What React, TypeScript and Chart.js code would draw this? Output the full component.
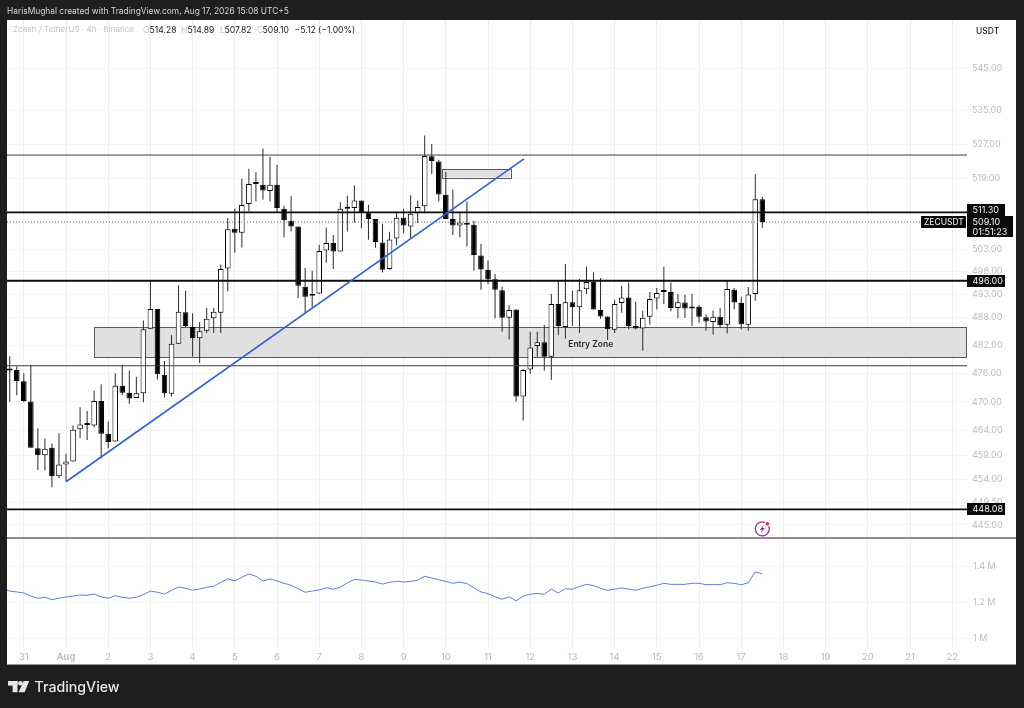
import React, { useEffect, useRef } from "react";
import { Chart, registerables } from "chart.js";

Chart.register(...registerables);

const firstCandle = -8;
const opens = [476.8,476.7,474.3,470.1,460.4,459.0,460.5,454.7,
457.1,457.7,464.3,465.3,465.1,470.2,463.4,461.8,473.4,471.9,
470.8,471.8,485.5,489.8,475.7,471.7,482.3,489.1,485.9,483.5,
485.1,487.8,489.0,498.7,507.6,506.7,513.2,517.9,517.6,516.2,
517.6,512.1,509.4,508.1,494.7,492.7,493.2,502.7,504.4,502.5,
512.1,512.3,514.0,511.3,509.8,504.5,498.6,505.4,510.1,508.1,
511.1,512.7,524.2,523.0,515.3,509.8,508.3,508.9,508.5,501.6,
498.4,496.3,493.9,487.9,489.7,471.1,476.8,481.8,482.6,479.5,
490.9,485.9,491.3,490.2,494.1,495.8,489.6,488.2,485.3,491.1,
492.3,486.1,485.6,488.1,492.1,493.5,493.5,490.0,491.2,489.9,
490.3,488.0,487.0,488.1,486.4,494.0,491.1,486.4,493.1,514.28];
const highs = [479.6,477.5,476.0,477.8,464.5,462.4,461.4,463.5,
459.3,465.1,468.9,468.1,472.3,473.7,465.9,476.0,477.8,476.6,
475.2,487.3,496.0,489.8,478.6,484.1,495.0,493.8,488.9,487.0,
490.0,490.1,499.6,510.0,512.2,519.0,521.3,520.5,526.0,524.1,
522.2,512.8,515.0,508.1,498.8,498.2,504.0,507.9,506.2,513.6,
515.1,517.5,514.0,513.0,509.8,508.7,506.9,511.5,512.1,515.2,
514.0,529.1,527.1,523.4,520.6,516.5,511.5,513.8,509.4,504.2,
500.5,497.5,494.7,490.6,489.7,476.9,484.9,484.9,486.4,493.1,
496.0,499.7,493.8,496.4,499.1,497.9,496.6,488.2,491.8,494.9,
495.6,491.4,489.5,493.5,494.4,499.1,495.6,493.1,492.9,493.1,
490.7,488.6,489.5,490.0,496.0,494.4,492.5,494.6,520.1,514.89];
const lows = [470.0,471.4,470.0,460.5,456.0,455.9,452.5,454.3,
453.7,457.7,462.5,462.1,464.7,458.3,460.4,461.8,471.4,469.6,
470.8,469.9,485.5,474.7,470.9,471.1,482.3,485.9,479.5,478.2,
484.6,484.6,484.6,493.7,502.2,503.4,511.5,513.8,514.2,513.8,
511.4,505.6,507.0,492.2,489.0,489.8,493.1,500.0,498.6,502.5,
507.0,509.0,507.7,505.1,503.3,497.8,498.4,503.9,506.6,505.3,
508.9,511.1,520.1,513.8,509.8,506.2,505.7,503.6,498.2,494.0,
495.3,487.8,484.9,483.2,470.0,466.1,475.9,479.5,476.6,474.6,
484.1,483.4,486.1,484.6,493.1,489.7,487.7,483.1,484.6,489.0,
485.4,485.4,480.8,486.4,489.7,490.9,489.3,487.8,487.9,486.1,
486.8,485.1,484.3,485.7,484.5,489.7,485.4,485.1,491.6,507.82];
const closes = [476.6,474.4,470.2,460.5,459.0,460.3,454.7,457.1,
457.7,464.2,465.3,465.2,470.2,463.4,461.7,473.4,471.9,470.7,
471.8,485.4,489.8,475.8,471.8,482.3,489.2,486.1,483.5,485.0,
487.7,489.2,498.6,507.5,506.7,513.0,517.8,517.8,516.3,517.6,
512.3,509.5,508.1,494.9,492.5,493.1,502.6,504.4,502.5,512.1,
512.3,514.0,511.3,509.8,504.6,498.4,505.2,510.1,508.3,511.0,
512.5,524.3,523.1,515.4,509.8,508.3,509.0,508.5,501.7,498.5,
496.3,494.0,487.9,489.6,471.1,476.7,481.5,482.6,479.5,490.9,
486.1,491.3,490.2,493.9,495.7,489.7,488.2,485.4,490.9,492.3,
486.1,485.6,487.9,492.0,493.3,493.6,490.0,491.3,489.9,490.2,
488.1,487.1,488.1,486.3,494.2,491.2,486.5,493.0,514.28,509.10];

const firstVolume = -9;
const volumeMa = [1.272,1.261,1.256,1.25,1.233,1.221,1.226,1.213,1.221,
1.228,1.233,1.239,1.237,1.244,1.229,1.221,1.235,1.226,1.221,
1.226,1.241,1.261,1.254,1.244,1.265,1.283,1.276,1.265,1.272,
1.282,1.287,1.309,1.329,1.317,1.337,1.356,1.343,1.317,1.328,
1.317,1.304,1.293,1.274,1.254,1.261,1.267,1.279,1.271,1.282,
1.306,1.326,1.322,1.317,1.311,1.3,1.309,1.315,1.311,1.315,
1.321,1.343,1.333,1.324,1.315,1.304,1.311,1.302,1.278,1.256,
1.246,1.229,1.215,1.229,1.206,1.233,1.243,1.248,1.243,1.272,
1.25,1.274,1.271,1.287,1.298,1.291,1.276,1.265,1.271,1.278,
1.272,1.265,1.276,1.285,1.293,1.304,1.298,1.298,1.298,1.304,
1.304,1.296,1.298,1.296,1.307,1.304,1.296,1.307,1.367,1.356];

const dayTicks = [-6,0,6,12,18,24,30,36,42,48,54,60,66,72,78,84,90,96,102,108,114,120,126];
const dayLabels = ["31","Aug","2","3","4","5","6","7","8","9","10","11","12","13","14","15","16","17","18","19","20","21","22"];
const priceTicks = [545,535,527,519,503,498,493,488,482,476,470,464,459,454,449.5,445];
const volumeTicks = [1,1.2,1.4];

const xRange = [-8.39, 128.1];
const priceRange = [442.4, 556.95];
const volumeRange = [0.95, 1.5556];

const heavyLevels = [511.3, 496, 448.08];
const thinLevels = [524.5, 477.6];
const lastPrice = 509.1;
const lastPriceLineEnd = 121.6;
const trendIdx = [0, 65.1];
const trendPrice = [453.6, 523.6];
const entryZone = { x0: 4, x1: 128, hi: 485.9, lo: 479.5, label: "Entry Zone", labelIdx: 74.6, labelPrice: 482.1 };
const smallZone = { x0: 53.4, x1: 63.2, hi: 521.3, lo: 519.3 };
const boltMark = { idx: 99, price: 444.2 };

const indices = opens.map((_, i) => firstCandle + i);
const FONT = "Inter, 'Noto Sans', sans-serif";

const overlay = {
  id: "overlay",
  beforeDraw(chart: any) {
    const c = chart.ctx;
    c.save();
    c.fillStyle = "#1e1e1e";
    c.fillRect(0, 0, 1024, 708);
    c.fillStyle = "#ffffff";
    c.fillRect(7, 20, 1009, 645);
    c.restore();
  },
  beforeDatasetsDraw(chart: any) {
    const c = chart.ctx;
    const x = chart.scales.x, y = chart.scales.y;
    c.save();
    for (const z of [entryZone, smallZone]) {
      const l = x.getPixelForValue(z.x0), r = x.getPixelForValue(z.x1);
      const t = y.getPixelForValue(z.hi), b = y.getPixelForValue(z.lo);
      c.fillStyle = "#e0e0e0";
      c.fillRect(l, t, r - l, b - t);
      c.strokeStyle = "#5a5a5a";
      c.lineWidth = 1;
      c.strokeRect(Math.round(l) + 0.5, Math.round(t) + 0.5, Math.round(r - l), Math.round(b - t));
    }
    c.restore();
  },
  afterDatasetsDraw(chart: any) {
    const c = chart.ctx;
    const x = chart.scales.x, y = chart.scales.y;
    c.save();
    // zone label
    c.fillStyle = "#2a2a2a";
    c.font = `600 8.5px ${FONT}`;
    c.textAlign = "center";
    c.textBaseline = "middle";
    c.fillText(entryZone.label, x.getPixelForValue(entryZone.labelIdx), y.getPixelForValue(entryZone.labelPrice));

    // pane separators
    c.fillStyle = "#8c8c8c";
    c.fillRect(7, 537, 1009, 2);
    c.fillStyle = "#9a9a9a";
    c.fillRect(7, 664, 1009, 1);

    // price tags
    const tag = (rx: number, ry: number, rw: number, rh: number) => {
      c.fillStyle = "#0a0a0a";
      c.fillRect(rx, ry, rw, rh);
    };
    c.font = `9px ${FONT}`;
    c.textAlign = "left";
    tag(967, 204, 38, 12);
    tag(967, 216, 46, 21);
    tag(921, 216, 45, 12);
    tag(967, 275, 38, 12);
    tag(967, 503, 38, 12);
    c.fillStyle = "#f2f2f2";
    c.fillText("511.30", 972.5, 210.5);
    c.fillText("509.10", 972.5, 222.5);
    c.fillText("01:51:23", 972.5, 232.5);
    c.fillText("496.00", 972.5, 281.5);
    c.fillText("448.08", 972.5, 509.5);
    c.font = `8.5px ${FONT}`;
    c.fillText("ZECUSDT", 924, 222.5);

    // header strip
    c.font = `8.4px ${FONT}`;
    c.fillStyle = "#d6d6d6";
    c.textBaseline = "middle";
    c.fillText("HarisMughal created with TradingView.com, Aug 17, 2026 15:08 UTC+5", 7, 11);

    // legend
    c.font = `8.1px ${FONT}`;
    c.fillStyle = "#c4c4c4";
    c.fillText("Zcash / TetherUS · 4h · Binance", 13, 30);
    c.font = `8.6px ${FONT}`;
    const legend: [string, number, string][] = [
      ["O", 143, "#c4c4c4"], ["514.28", 149.5, "#1a1a1a"],
      ["H", 181, "#c4c4c4"], ["514.89", 187.5, "#1a1a1a"],
      ["L", 220, "#c4c4c4"], ["507.82", 224.5, "#1a1a1a"],
      ["C", 257, "#c4c4c4"], ["509.10", 262.5, "#1a1a1a"],
      ["−5.12 (−1.00%)", 294.5, "#1a1a1a"],
    ];
    for (const [t, px, col] of legend) {
      c.fillStyle = col;
      c.fillText(t, px, 30);
    }
    c.font = `500 8.5px ${FONT}`;
    c.fillStyle = "#1a1a1a";
    c.fillText("USDT", 976, 31);

    // bolt marker
    const bx = x.getPixelForValue(boltMark.idx), by = y.getPixelForValue(boltMark.price);
    c.strokeStyle = "#8e2a9a";
    c.lineWidth = 1.2;
    c.beginPath();
    c.arc(bx, by, 7, 0, Math.PI * 2);
    c.stroke();
    c.fillStyle = "#8e2a9a";
    c.beginPath();
    c.moveTo(bx + 1.5, by - 4);
    c.lineTo(bx - 2.5, by + 0.8);
    c.lineTo(bx - 0.2, by + 0.8);
    c.lineTo(bx - 1.5, by + 4);
    c.lineTo(bx + 2.5, by - 0.8);
    c.lineTo(bx + 0.2, by - 0.8);
    c.closePath();
    c.fill();
    c.fillStyle = "#ffffff";
    c.beginPath();
    c.arc(bx + 5, by - 5, 2.8, 0, Math.PI * 2);
    c.fill();
    c.fillStyle = "#e8275f";
    c.beginPath();
    c.arc(bx + 5, by - 5, 1.9, 0, Math.PI * 2);
    c.fill();

    // footer logo
    c.fillStyle = "#e6e6e6";
    c.fillRect(8, 681, 9.5, 4.6);
    c.fillRect(12.6, 681, 4.9, 11.2);
    c.beginPath();
    c.arc(20.4, 683.3, 2.3, 0, Math.PI * 2);
    c.fill();
    c.beginPath();
    c.moveTo(23.6, 681);
    c.lineTo(29.2, 681);
    c.lineTo(24.6, 692.2);
    c.lineTo(18.6, 692.2);
    c.closePath();
    c.fill();
    c.font = `500 14.2px ${FONT}`;
    c.fillText("TradingView", 34.5, 687.5);
    c.restore();
  },
};

export default function App() {
  const ref = useRef<HTMLCanvasElement>(null);
  useEffect(() => {
    document.body.style.margin = "0";
    document.body.style.background = "#1e1e1e";
    const lineSeg = (level: number, end = xRange[1]) => [{ x: xRange[0], y: level }, { x: end, y: level }];
    const levelDs = (level: number, width: number) => ({
      type: "line", data: lineSeg(level), yAxisID: "y", borderColor: width > 1 ? "#0d0d0d" : "#3c3c3c",
      borderWidth: width, pointRadius: 0, order: 1,
    });
    const chart = new Chart(ref.current as HTMLCanvasElement, {
      type: "bar",
      data: {
        datasets: [
          {
            label: "wicks", data: indices.map((v, i) => ({ x: v, y: [lows[i], highs[i]] })),
            barThickness: 1, backgroundColor: "#2a2a2a", borderWidth: 0, grouped: false, yAxisID: "y", order: 4, inflateAmount: 0,
          },
          {
            label: "bodies", data: indices.map((v, i) => ({ x: v, y: [opens[i], closes[i]] })),
            barThickness: 5.6, minBarLength: 2, grouped: false, yAxisID: "y", order: 3, inflateAmount: 0,
            backgroundColor: opens.map((o, i) => (closes[i] >= o ? "#ffffff" : "#000000")),
            borderColor: "#000000", borderWidth: 1, borderSkipped: false,
          },
          ...heavyLevels.map((l) => levelDs(l, 1.8)),
          ...thinLevels.map((l) => levelDs(l, 1)),
          {
            type: "line", data: lineSeg(lastPrice, lastPriceLineEnd), yAxisID: "y", borderColor: "#6a6a6a",
            borderWidth: 1, borderDash: [1, 2], pointRadius: 0, order: 1,
          },
          {
            type: "line", data: trendIdx.map((v, i) => ({ x: v, y: trendPrice[i] })), yAxisID: "y",
            borderColor: "#2f62d9", borderWidth: 1.6, pointRadius: 0, order: 0,
          },
          {
            type: "line", label: "volume", data: volumeMa.map((v, i) => ({ x: firstVolume + i, y: v })), yAxisID: "v",
            borderColor: "#5f7fdc", borderWidth: 1, pointRadius: 0, tension: 0, order: 2,
          },
        ] as any,
      },
      options: {
        responsive: false,
        animation: false,
        events: [],
        layout: { padding: { left: 7, top: 20, right: 8, bottom: 43 } },
        plugins: { legend: { display: false }, tooltip: { enabled: false }, title: { display: false } },
        scales: {
          x: {
            type: "linear", min: xRange[0], max: xRange[1], offset: false,
            grid: { color: "#eceef1", lineWidth: 1, offset: false, drawTicks: false },
            border: { display: false },
            afterBuildTicks: (s: any) => { s.ticks = dayTicks.map((value) => ({ value })); },
            afterFit: (s: any) => { s.height = 18; },
            ticks: {
              autoSkip: false, maxRotation: 0, padding: 4, color: "#b9b9b9",
              font: (ctx: any) => ({ family: FONT, size: 9.5, weight: ctx.tick && ctx.tick.value === 0 ? "600" : "400" }),
              callback: (v: any) => dayLabels[dayTicks.indexOf(Number(v))],
            },
          },
          y: {
            type: "logarithmic", position: "right", stack: "panes", stackWeight: 518, bounds: "data",
            min: priceRange[0], max: priceRange[1],
            grid: { color: "#f3f4f6", drawTicks: false },
            border: { display: false },
            afterBuildTicks: (s: any) => { s.ticks = priceTicks.map((value) => ({ value })); },
            afterFit: (s: any) => { s.width = 49; },
            ticks: {
              autoSkip: false, padding: 5, color: "#bcbcbc", font: { family: FONT, size: 9 },
              callback: (v: any) => Number(v).toFixed(2),
            },
          },
          v: {
            type: "linear", position: "right", stack: "panes", stackWeight: 109, bounds: "data",
            min: volumeRange[0], max: volumeRange[1],
            grid: { color: "#f3f4f6", drawTicks: false },
            border: { display: false },
            afterBuildTicks: (s: any) => { s.ticks = volumeTicks.map((value) => ({ value })); },
            afterFit: (s: any) => { s.width = 49; },
            ticks: {
              autoSkip: false, padding: 6, color: "#bcbcbc", font: { family: FONT, size: 9 },
              callback: (v: any) => `${Number(v)} M`,
            },
          },
        },
      } as any,
      plugins: [overlay],
    });
    return () => chart.destroy();
  }, []);
  return <canvas ref={ref} width={1024} height={708} style={{ display: "block", width: 1024, height: 708 }} />;
}
